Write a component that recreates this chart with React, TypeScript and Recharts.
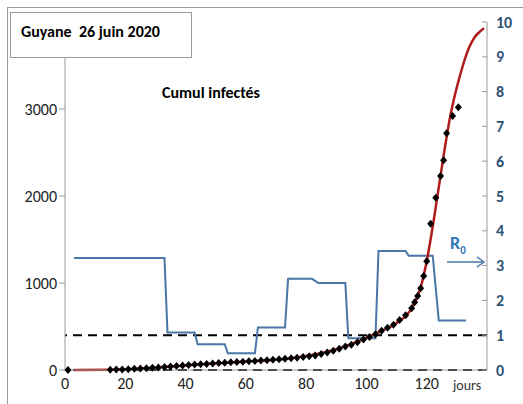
import React from 'react';
import { ComposedChart, Line, Scatter, XAxis, YAxis, ReferenceLine } from 'recharts';

// Cumulative infected, observed points (day, count)
const obsDays = [1, 15, 17, 19, 21, 23, 25, 27, 29, 31, 33, 35, 37, 39, 41, 43, 45, 47, 49, 51, 53, 55, 57, 59, 61, 63, 65, 67, 69, 71, 73, 75, 77, 79, 81, 83, 85, 87, 89, 91, 93, 95, 97, 99, 101, 103, 105, 107, 109, 111, 113, 115, 116, 117, 118, 119, 120, 121.3, 123, 124.6, 125.6, 126.6, 128.6, 130.5];
const obsValues = [0, 3, 5, 7, 10, 13, 17, 21, 26, 30, 35, 41, 47, 52, 57, 62, 65, 70, 75, 80, 84, 88, 92, 96, 100, 104, 108, 113, 118, 123, 128, 135, 142, 150, 158, 168, 185, 200, 220, 245, 270, 290, 320, 350, 380, 410, 450, 485, 520, 575, 630, 710, 780, 850, 940, 1080, 1250, 1680, 1980, 2230, 2410, 2720, 2920, 3020];

// Fitted model curve (day, count)
const fitDays = [3, 15, 30, 45, 60, 75, 90, 100, 105, 110, 115, 118, 120, 122, 124, 126, 128, 130, 132, 134, 136, 138, 139];
const fitValues = [0, 3, 28, 65, 98, 135, 240, 370, 450, 540, 710, 950, 1250, 1650, 2100, 2550, 2950, 3250, 3500, 3700, 3830, 3900, 3930];

// R0 steps (day, R0)
const r0Days = [3, 33, 34, 43, 44, 53, 54, 63, 64, 73, 74, 82, 84, 93, 94, 103, 104, 113, 114, 122, 124, 133];
const r0Values = [3.22, 3.22, 1.08, 1.08, 0.74, 0.74, 0.48, 0.48, 1.22, 1.22, 2.62, 2.62, 2.5, 2.5, 0.91, 0.91, 3.42, 3.42, 3.28, 3.28, 1.42, 1.42];

const xTicks = [0, 20, 40, 60, 80, 100, 120];
const leftTicks = [0, 1000, 2000, 3000];
const rightTicks = [0, 1, 2, 3, 4, 5, 6, 7, 8, 9, 10];

const obsData = obsDays.map((d, i) => ({ day: d, cases: obsValues[i] }));
const fitData = fitDays.map((d, i) => ({ day: d, fit: fitValues[i] }));
const r0Data = r0Days.map((d, i) => ({ day: d, r0: r0Values[i] }));

const Diamond = (props: any) => {
  const { cx, cy } = props;
  if (cx == null || cy == null) return null;
  return <path d={`M${cx},${cy - 4}L${cx + 3.5},${cy}L${cx},${cy + 4}L${cx - 3.5},${cy}Z`} fill="#000" />;
};

const font = 'Calibri, Carlito, "Open Sans", Arial, sans-serif';

export default function App() {
  return (
    <div style={{ position: 'absolute', left: 0, top: 0, width: 523, height: 404, background: '#fff', fontFamily: font, overflow: 'hidden' }}>
      <div style={{ position: 'absolute', left: 7, top: 7, width: 540, height: 420, borderTop: '1px solid #999', borderLeft: '1px solid #999' }} />
      <ComposedChart width={523} height={404} margin={{ top: 22, right: 0, left: 5, bottom: 4 }}>
        <XAxis type="number" dataKey="day" domain={[0, 140]} ticks={xTicks} axisLine={{ stroke: '#999' }} tickLine={false}
          tick={{ fill: '#222', fontSize: 16, fontFamily: font }} height={30} />
        <YAxis yAxisId="left" domain={[0, 4000]} ticks={leftTicks} axisLine={{ stroke: '#999' }} tickLine={{ stroke: '#999' }}
          tick={{ fill: '#222', fontSize: 16, fontFamily: font }} width={60} />
        <YAxis yAxisId="right" orientation="right" domain={[0, 10]} ticks={rightTicks} axisLine={{ stroke: '#999' }}
          tickLine={{ stroke: '#999' }} tickSize={-5} tickMargin={14}
          tick={{ fill: '#2f5377', fontSize: 16, fontWeight: 'bold', fontFamily: font }} width={36} />
        <ReferenceLine yAxisId="right" y={1} stroke="#000" strokeWidth={2} strokeDasharray="9 6" />
        <ReferenceLine yAxisId="right" y={0} stroke="#000" strokeWidth={2} strokeDasharray="9 6" />
        <Line yAxisId="right" data={r0Data} dataKey="r0" type="linear" stroke="#4a76a8" strokeWidth={2} dot={false} isAnimationActive={false} />
        <Line yAxisId="left" data={fitData} dataKey="fit" type="monotone" stroke="#b01c1c" strokeWidth={2.5} dot={false} isAnimationActive={false} />
        <Scatter yAxisId="left" data={obsData} dataKey="cases" shape={<Diamond />} isAnimationActive={false} />
      </ComposedChart>
      <div style={{ position: 'absolute', left: 10, top: 12, width: 180, height: 44, border: '1px solid #999', background: '#fff' }}>
        <div style={{ position: 'absolute', left: 10, top: 9, fontSize: 16, fontWeight: 'bold' }}>Guyane&nbsp; 26 juin 2020</div>
      </div>
      <div style={{ position: 'absolute', left: 162, top: 83, fontSize: 16, fontWeight: 'bold' }}>Cumul infectés</div>
      <div style={{ position: 'absolute', left: 453, top: 377, fontSize: 14, color: '#333' }}>jours</div>
      <div style={{ position: 'absolute', left: 450, top: 232, fontSize: 18, fontWeight: 'bold', color: '#2e75b6' }}>R<sub style={{ fontSize: 11 }}>0</sub></div>
      <svg style={{ position: 'absolute', left: 446, top: 255 }} width={40} height={14}>
        <line x1={1} y1={7} x2={38} y2={7} stroke="#4a76a8" strokeWidth={1.5} />
        <polyline points="31,2 38,7 31,12" fill="none" stroke="#4a76a8" strokeWidth={1.5} />
      </svg>
    </div>
  );
}
